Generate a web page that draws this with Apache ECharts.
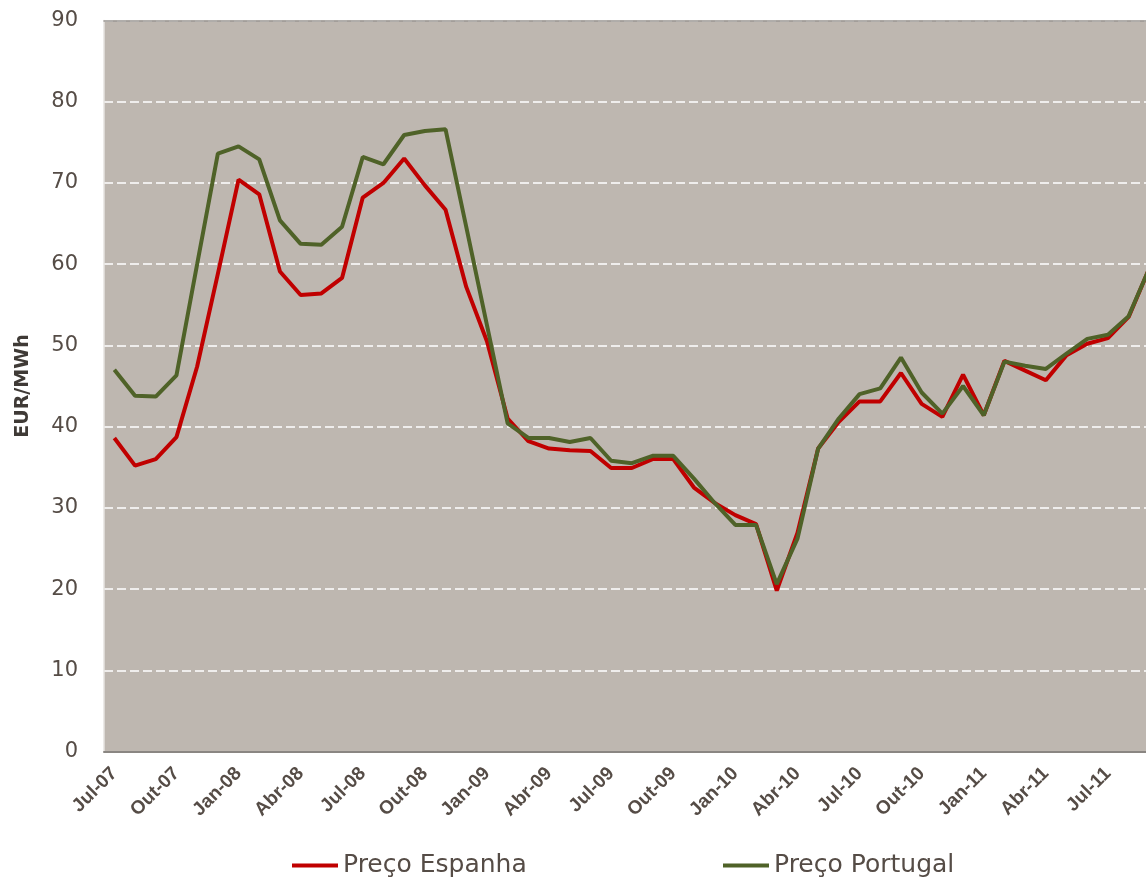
<!DOCTYPE html>
<html>
<head>
<meta charset="utf-8">
<script src="https://cdn.jsdelivr.net/npm/echarts@6/dist/echarts.min.js"></script>
<style>
html,body{margin:0;padding:0;background:#fff;}
#chart{width:1146px;height:883px;}
</style>
</head>
<body>
<div id="chart"></div>
<script>
const categories = [
 'Jul-07','Ago-07','Set-07','Out-07','Nov-07','Dez-07',
 'Jan-08','Fev-08','Mar-08','Abr-08','Mai-08','Jun-08','Jul-08','Ago-08','Set-08','Out-08','Nov-08','Dez-08',
 'Jan-09','Fev-09','Mar-09','Abr-09','Mai-09','Jun-09','Jul-09','Ago-09','Set-09','Out-09','Nov-09','Dez-09',
 'Jan-10','Fev-10','Mar-10','Abr-10','Mai-10','Jun-10','Jul-10','Ago-10','Set-10','Out-10','Nov-10','Dez-10',
 'Jan-11','Fev-11','Mar-11','Abr-11','Mai-11','Jun-11','Jul-11','Ago-11','Set-11'
];
const precoEspanha = [
 38.6,35.2,36.0,38.7,47.4,58.8,
 70.4,68.6,59.1,56.2,56.4,58.3,68.2,70.0,73.0,69.7,66.7,57.2,
 50.5,41.0,38.2,37.3,37.1,37.0,34.9,34.9,36.0,36.0,32.5,30.6,
 29.1,28.0,19.8,26.9,37.3,40.6,43.1,43.1,46.6,42.8,41.2,46.4,
 41.4,48.1,46.9,45.7,48.8,50.2,50.9,53.5,59.5
];
const precoPortugal = [
 47.0,43.8,43.7,46.3,60.0,73.6,
 74.5,72.9,65.4,62.5,62.4,64.6,73.2,72.3,75.9,76.4,76.6,64.6,
 52.5,40.4,38.6,38.6,38.1,38.6,35.8,35.5,36.4,36.4,33.6,30.6,
 27.9,27.9,20.6,26.2,37.3,41.0,44.0,44.7,48.5,44.2,41.6,45.0,
 41.4,48.0,47.5,47.1,49.0,50.8,51.3,53.6,59.5
];
const seriesNames = ['Preço Espanha','Preço Portugal'];
const yTicks = {min:0, max:90, interval:10};

const chart = echarts.init(document.getElementById('chart'), null, {renderer:'canvas'});
const txt = '#554c46';
chart.setOption({
  animation:false,
  backgroundColor:'#ffffff',
  textStyle:{fontFamily:'DejaVu Sans'},
  grid:{left:104, top:20.5, width:1055.7, height:731, show:true, backgroundColor:'#BEB7B0', borderWidth:0,
        containLabel:false, outerBoundsMode:'none'},
  legend:[
    {data:[seriesNames[0]], left:292, top:853, padding:0, icon:'rect', itemWidth:46, itemHeight:4,
     textStyle:{fontSize:25, color:txt, fontFamily:'DejaVu Sans'}},
    {data:[seriesNames[1]], left:723, top:853, padding:0, icon:'rect', itemWidth:46, itemHeight:4,
     textStyle:{fontSize:25, color:txt, fontFamily:'DejaVu Sans'}}
  ],
  xAxis:[{
    type:'category', data:categories, boundaryGap:true,
    axisLine:{show:true, lineStyle:{color:'#8a8682', width:2}},
    axisTick:{show:false},
    axisLabel:{interval:2, rotate:45, margin:19, fontSize:19, fontWeight:'bold', color:txt, fontFamily:'Liberation Sans'},
    splitLine:{show:false}
  },{
    type:'category', data:categories, position:'top', boundaryGap:true,
    axisLine:{show:true, lineStyle:{color:'#9a9693', width:1.5}},
    axisTick:{show:false}, axisLabel:{show:false}, splitLine:{show:false}
  }],
  yAxis:{
    type:'value', min:yTicks.min, max:yTicks.max, interval:yTicks.interval,
    name:'EUR/MWh', nameLocation:'middle', nameGap:71,
    nameTextStyle:{fontSize:19, fontWeight:'bold', color:'#3f3a36', fontFamily:'DejaVu Sans'},
    axisLine:{show:true, lineStyle:{color:'#e6e3e0', width:1.5}},
    axisTick:{show:false},
    axisLabel:{fontSize:21, color:txt, margin:26, fontFamily:'DejaVu Sans'},
    splitLine:{show:true, lineStyle:{color:'#ffffff', width:1.5, type:[9,4]}}
  },
  series:[
    {name:seriesNames[0], type:'line', data:precoEspanha, symbol:'none', lineStyle:{color:'#C00000', width:4}, itemStyle:{color:'#C00000'}},
    {name:seriesNames[1], type:'line', data:precoPortugal, symbol:'none', lineStyle:{color:'#4F6228', width:4}, itemStyle:{color:'#4F6228'}}
  ]
});
</script>
</body>
</html>
